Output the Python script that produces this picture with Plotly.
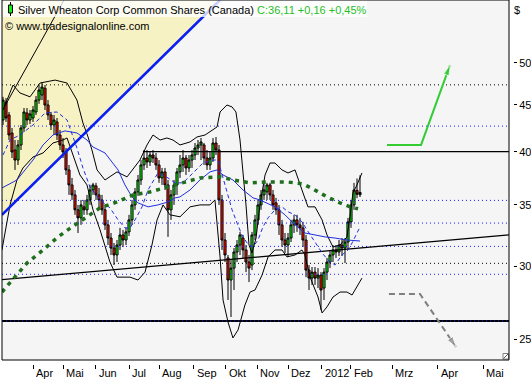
import math
import plotly.graph_objects as go

# ---------------- data ----------------
bar_x = list(range(0, 240, 2))  # bar position (trading-day units)

open_ = [43.31, 45.3, 43.86, 41.92, 40.17, 39.17, 40.68, 42.45, 44.08, 43.31,
         43.53, 44.19, 45.53, 46.11, 46.9, 44.97, 43.86, 42.77, 43.10, 41.71,
         40.68, 39.97, 38.21, 36.80, 35.89, 34.57, 33.88, 34.83, 34.57, 35.44,
         36.34, 36.71, 35.89, 35.44, 34.57, 33.29, 32.21, 31.41, 30.87, 31.65,
         32.46, 32.05, 32.71, 33.71, 35.00, 36.16, 37.26, 38.69, 39.37, 38.98,
         39.67, 39.37, 38.69, 37.45, 38.02, 36.80, 34.57, 35.89, 36.80, 38.02,
         38.69, 39.37, 38.40, 39.17, 39.67, 40.37, 40.68, 40.68, 39.37, 38.69,
         39.37, 40.88, 40.17, 35.44, 32.05, 30.64, 28.99, 29.87, 31.10, 31.65,
         32.21, 31.26, 30.33, 30.10, 32.46, 33.71, 35.00, 35.89, 36.16, 36.80,
         35.89, 35.18, 34.57, 33.29, 32.05, 31.65, 32.21, 33.29, 33.71, 33.29,
         33.04, 32.05, 29.72, 29.13, 29.57, 29.13, 29.35, 28.41, 29.57, 30.33,
         30.87, 31.26, 31.10, 31.65, 31.41, 31.89, 33.54, 35.00, 36.30, 35.90]
close = [45.53, 43.53, 41.71, 39.97, 39.17, 40.68, 42.45, 44.19, 43.31, 43.97,
         44.41, 45.53, 46.69, 47.05, 44.97, 43.86, 42.77, 43.31, 41.71, 40.68,
         39.97, 38.21, 36.80, 35.89, 34.57, 33.88, 35.00, 34.57, 35.44, 36.34,
         36.80, 35.89, 35.44, 34.57, 33.29, 32.21, 31.41, 30.87, 31.65, 32.46,
         32.05, 32.71, 33.71, 35.00, 36.16, 37.26, 38.69, 39.37, 38.98, 39.67,
         39.37, 38.69, 37.45, 38.02, 36.80, 34.57, 35.89, 36.80, 38.02, 38.69,
         39.37, 38.40, 39.17, 39.67, 40.37, 40.68, 40.99, 39.37, 38.69, 39.37,
         40.88, 40.17, 35.44, 32.05, 30.87, 28.99, 29.87, 31.10, 31.65, 32.46,
         31.26, 30.33, 29.87, 32.46, 33.71, 35.00, 35.89, 36.34, 36.80, 35.89,
         35.00, 34.57, 33.29, 32.05, 31.65, 32.21, 33.29, 33.71, 33.29, 33.04,
         32.05, 29.72, 29.13, 29.57, 29.13, 29.35, 28.27, 29.57, 30.33, 30.87,
         31.26, 31.10, 31.65, 31.41, 31.89, 33.54, 35.00, 36.34, 35.95, 36.11]
high = [45.9, 45.76, 44.19, 42.45, 41.19, 41.19, 42.77, 44.63, 44.63, 44.41,
        44.86, 46.0, 47.28, 47.6, 47.28, 45.53, 44.19, 43.86, 43.53, 42.24,
        41.40, 40.37, 38.69, 37.45, 36.34, 35.00, 35.44, 35.44, 35.89, 36.80,
        36.99, 36.99, 36.52, 35.89, 35.00, 33.71, 32.62, 31.81, 32.05, 33.04,
        32.87, 33.04, 34.14, 35.44, 36.52, 37.73, 39.17, 40.17, 40.17, 39.97,
        40.17, 39.87, 39.17, 38.40, 38.40, 37.26, 36.34, 37.26, 38.40, 39.67,
        40.17, 39.67, 39.67, 40.17, 40.88, 41.19, 41.40, 40.88, 40.17, 39.97,
        41.40, 41.50, 40.68, 35.89, 32.62, 30.87, 30.48, 31.41, 32.05, 32.71,
        32.46, 31.65, 30.87, 32.71, 34.14, 35.44, 36.34, 37.08, 36.99, 36.99,
        36.34, 35.62, 35.00, 33.71, 32.62, 32.62, 33.71, 34.14, 34.14, 33.88,
        33.54, 32.46, 30.10, 29.95, 29.95, 29.87, 29.57, 29.87, 30.64, 31.26,
        31.65, 31.65, 32.05, 32.21, 32.21, 33.88, 35.44, 36.99, 37.40, 37.70]
low = [42.77, 43.10, 41.19, 39.37, 38.21, 38.69, 40.17, 42.03, 42.77, 42.88,
       43.10, 43.86, 45.1, 45.53, 44.41, 43.31, 42.24, 41.71, 41.19, 40.17,
       39.37, 37.73, 35.89, 35.44, 34.14, 32.62, 33.29, 34.14, 34.14, 35.00,
       35.89, 35.44, 34.57, 34.14, 32.87, 31.65, 30.87, 30.10, 30.33, 31.26,
       31.49, 31.65, 32.38, 33.29, 34.57, 35.80, 36.80, 38.21, 38.40, 38.59,
       38.88, 38.21, 36.99, 36.80, 36.34, 32.30, 33.71, 35.00, 35.89, 37.45,
       38.02, 37.73, 38.02, 38.40, 39.17, 39.67, 39.17, 38.69, 38.21, 38.21,
       38.98, 39.67, 35.00, 31.26, 30.33, 27.57, 26.42, 28.27, 30.33, 30.87,
       30.64, 29.57, 28.84, 29.72, 32.05, 33.29, 34.57, 35.44, 35.44, 35.44,
       34.57, 34.14, 32.46, 31.49, 31.03, 30.72, 31.89, 32.62, 32.71, 32.46,
       31.49, 29.20, 28.27, 28.63, 28.63, 28.41, 26.89, 27.57, 28.99, 29.87,
       30.33, 30.64, 30.79, 30.79, 30.25, 31.26, 33.04, 34.57, 35.60, 35.70]

# Bollinger bands
bb_up_x = [0, 6.7, 11.3, 18, 24.7, 34.7, 42.7, 49.3, 53.3, 56.7, 59.3, 62.7, 68, 76, 82.7,
           91.3, 96, 100, 104.7, 109.3, 113.3, 118, 124.7, 129.3, 134.7, 140, 142.7, 144.7,
           149.3, 152.7, 155.3, 158, 160, 162, 164, 166, 168.7, 171.3, 174.7, 178, 181.3,
           186, 190, 194.7, 199.3, 203.3, 208, 212.7, 216, 220, 224.7, 229.3, 231.3, 233.3,
           236, 239.3]
bb_up = [44.41, 47.28, 46.35, 45.9, 47.52, 47.87, 47.52, 45.53, 42.99, 41.50, 40.17, 38.21,
         37.26, 38.02, 37.55, 39.17, 40.68, 41.71, 41.19, 41.40, 41.19, 40.68, 40.99, 41.50,
         41.71, 42.24, 42.56, 44.19, 44.97, 44.75, 44.19, 41.19, 38.21, 35.0, 31.65, 31.03,
         32.21, 35.0, 37.73, 38.88, 38.88, 38.21, 37.92, 38.21, 36.34, 34.83, 34.83, 33.71,
         32.46, 31.49, 31.65, 32.30, 33.97, 36.07, 36.80, 37.92]
bb_lo_x = [-0.7, 4.7, 9.3, 13.3, 20, 26.7, 33.3, 40, 42.7, 48, 51.3, 56, 60, 64.7, 68, 71.3,
           76, 84.7, 90, 94.7, 99.3, 102.7, 106.7, 111.3, 118, 124.7, 131.3, 138, 141.3,
           144.7, 146.7, 150, 153.3, 156.7, 161.3, 164.7, 168, 172.7, 176.7, 181.3, 186,
           189.3, 194.7, 199.3, 201.3, 204.7, 210, 212.7, 216, 220, 224.7, 229.3, 232.7,
           236, 239.3]
bb_lo = [31.26, 35.0, 37.26, 38.40, 39.47, 39.87, 40.88, 41.19, 41.40, 39.17, 37.73, 36.80,
         34.57, 32.87, 31.65, 30.33, 29.20, 29.20, 28.99, 29.57, 31.65, 33.71, 35.0, 34.14,
         33.97, 34.83, 35.0, 35.0, 35.44, 30.72, 27.57, 26.09, 25.07, 25.58, 27.23, 28.13,
         28.27, 29.35, 30.72, 31.26, 31.26, 30.72, 30.87, 31.26, 30.87, 29.20, 27.78, 26.69,
         27.10, 27.78, 28.13, 28.13, 27.92, 28.48, 29.13]

# moving averages
ma_mid_x = [-0.7, 9.3, 20, 26.7, 33.3, 41.3, 49.3, 56, 60, 68, 76.7, 81.3, 86, 90, 96.7,
            103.3, 110, 114.7, 118, 124.7, 131.3, 138, 142.7, 146.7, 153.3, 160, 166.7,
            171.3, 181.3, 188, 194.7, 201.3, 208, 214.7, 221.3, 229.3, 238]
ma_mid = [36.52, 37.26, 39.17, 40.68, 41.71, 42.14, 41.92, 41.19, 40.47, 39.87, 38.21,
          36.80, 35.71, 35.18, 34.83, 35.0, 35.26, 35.62, 35.71, 36.34, 37.26, 38.02, 38.21,
          37.73, 37.26, 36.34, 35.62, 35.44, 34.83, 34.14, 33.29, 32.62, 32.46, 32.30,
          32.21, 32.05, 31.97]
ma_fast_x = [0, 4.7, 11.3, 20, 28, 36, 42.7, 49.3, 53.3, 58, 64.7, 71.3, 76.7, 81.3, 84.7,
             88, 92.7, 96.7, 103.3, 110, 114.7, 120, 126.7, 133.3, 140, 143.3, 146.7, 150,
             152.7, 156, 159.3, 162.7, 166.7, 170, 173.3, 176.7, 181.3, 186, 190, 194.7,
             199.3, 202.7, 208, 212.7, 216.7, 221.3, 226, 230, 232.7, 234.7, 238]
ma_fast = [39.67, 41.19, 41.71, 42.77, 44.08, 44.19, 43.31, 40.37, 38.40, 36.61, 35.44,
           34.74, 33.71, 33.04, 33.04, 33.71, 34.83, 36.34, 37.92, 37.45, 36.99, 36.99,
           37.92, 38.88, 39.17, 39.17, 37.45, 35.71, 34.57, 33.46, 32.46, 31.81, 31.49,
           32.05, 33.12, 33.88, 34.57, 34.83, 34.40, 34.14, 33.54, 32.87, 31.89, 31.03,
           30.48, 30.10, 30.87, 31.26, 31.81, 32.30, 33.12]
ma_slow_x = [-0.7, 16, 26.7, 36.7, 46, 56, 64.7, 76, 86.7, 98, 109.3, 118, 131.3, 144.7,
             153.3, 164.7, 176, 189.3, 200, 206.7, 216, 224.7, 231.3, 236.7]
ma_slow = [28.13, 30.25, 31.26, 32.30, 33.12, 33.97, 34.74, 35.26, 35.89, 36.16, 36.61,
           36.99, 37.45, 37.55, 37.26, 36.99, 37.08, 37.08, 36.89, 36.43, 35.71, 35.18,
           34.83, 34.66]

# drawn trend lines / levels
blue_trend_x = [-0.7, 144.7]
blue_trend = [34.14, 58.52]
thin_trend_x = [1.3, 40.7]
thin_trend = [44.86, 58.52]
support_x = [-0.7, 337.3]
support = [29.02, 32.47]
resist_x = [93.3, 337.3]
resist = [40.0, 40.0]
floor_level = 26.15
black_dotted_levels = [47.3, 30.23]
blue_dotted_levels = [42.65, 35.4, 33.44, 31.54, 29.41, 26.15]
up_arrow_x = [256, 278.7, 298]
up_arrow = [40.68, 40.68, 49.7]
down_arrow_x = [257.3, 278, 302]
down_arrow = [27.99, 27.99, 24.51]

tick_pos = [20.2, 40.2, 61.8, 84, 104, 127.3, 148.5, 169.5, 190.2, 212.5, 231.8, 259.5, 289.8, 320.2]
tick_text = ['Apr', 'Mai', 'Jun', 'Jul', 'Aug', 'Sep', 'Okt', 'Nov', 'Dez', '2012', 'Feb', 'Mrz', 'Apr', 'Mai']
y_ticks = [25, 30, 35, 40, 45, 50]

X0, X1 = -0.667, 337.33
Y0, Y1 = 23.72, 58.52
LY0, LY1 = math.log10(Y0), math.log10(Y1)


def ydom(v):
    return (math.log10(v) - LY0) / (LY1 - LY0)


# ---------------- figure ----------------
fig = go.Figure()
FONT = "Liberation Sans, Arial, sans-serif"

for lv in black_dotted_levels:
    fig.add_trace(go.Scatter(x=[X0, X1], y=[lv, lv], mode='lines',
                             line=dict(color='black', width=1, dash='1px,3px'),
                             hoverinfo='skip', showlegend=False))
fig.add_trace(go.Scatter(x=[X0, X1], y=[floor_level, floor_level], mode='lines',
                         line=dict(color='black', width=2), hoverinfo='skip', showlegend=False))
for lv in blue_dotted_levels:
    fig.add_trace(go.Scatter(x=[X0, X1], y=[lv, lv], mode='lines',
                             line=dict(color='#1a1aff', width=1, dash='1px,3px'),
                             hoverinfo='skip', showlegend=False))

fig.add_trace(go.Scatter(x=resist_x, y=resist, mode='lines', line=dict(color='black', width=1.3),
                         hoverinfo='skip', showlegend=False))
fig.add_trace(go.Scatter(x=support_x, y=support, mode='lines', line=dict(color='black', width=1.3),
                         hoverinfo='skip', showlegend=False))

fig.add_trace(go.Candlestick(x=bar_x, open=open_, high=high, low=low, close=close,
                             increasing=dict(fillcolor='#10f010', line=dict(color='black', width=1)),
                             decreasing=dict(fillcolor='#ff1400', line=dict(color='black', width=1)),
                             whiskerwidth=0, hoverinfo='skip', showlegend=False))

for xs, ys in [(bb_up_x, bb_up), (bb_lo_x, bb_lo)]:
    fig.add_trace(go.Scatter(x=xs, y=ys, mode='lines', line=dict(color='black', width=1),
                             hoverinfo='skip', showlegend=False))
fig.add_trace(go.Scatter(x=ma_mid_x, y=ma_mid, mode='lines', line=dict(color='#1f2fe0', width=1),
                         hoverinfo='skip', showlegend=False))
fig.add_trace(go.Scatter(x=ma_fast_x, y=ma_fast, mode='lines',
                         line=dict(color='#1f2fe0', width=1, dash='4px,3px'),
                         hoverinfo='skip', showlegend=False))
fig.add_trace(go.Scatter(x=ma_slow_x, y=ma_slow, mode='lines',
                         line=dict(color='#1e6e1e', width=3.5, dash='4px,5px'),
                         hoverinfo='skip', showlegend=False))

fig.add_trace(go.Scatter(x=thin_trend_x, y=thin_trend, mode='lines', line=dict(color='black', width=1),
                         hoverinfo='skip', showlegend=False))
fig.add_trace(go.Scatter(x=blue_trend_x, y=blue_trend, mode='lines', line=dict(color='#0a1ff0', width=2.6),
                         hoverinfo='skip', showlegend=False))

fig.add_trace(go.Scatter(x=up_arrow_x, y=up_arrow, mode='lines+markers',
                         line=dict(color='#33cc33', width=2),
                         marker=dict(symbol='arrow', size=[0, 0, 11], angleref='previous', color='#33cc33'),
                         hoverinfo='skip', showlegend=False))
fig.add_trace(go.Scatter(x=down_arrow_x, y=down_arrow, mode='lines+markers',
                         line=dict(color='#808080', width=2, dash='6px,4px'),
                         marker=dict(symbol='arrow', size=[0, 0, 11], angleref='previous', color='#808080'),
                         hoverinfo='skip', showlegend=False))

# ---------------- layout ----------------
W, H = 531, 380
ML, MR, MT, MB = 2, 18, 0, 16
PW, PH = W - ML - MR, H - MT - MB


def xp(px):
    return (px - ML) / PW


def yp(py):
    return 1 - (py - MT) / PH


annotations = []
for pos, txt in zip(tick_pos, tick_text):
    annotations.append(dict(x=pos, xref='x', xanchor='left', xshift=1, y=yp(373), yref='paper',
                            yanchor='middle', text=txt, showarrow=False,
                            font=dict(family=FONT, size=11, color='black')))
annotations.append(dict(x=xp(16), xref='paper', xanchor='left', y=yp(9.5), yref='paper', yanchor='middle',
                        text="Silver Wheaton Corp Common Shares (Canada) "
                             "<span style='color:#1fbf1f'>C:36,11 +0,16 +0,45%</span>",
                        showarrow=False, font=dict(family=FONT, size=11, color='black')))
annotations.append(dict(x=xp(3), xref='paper', xanchor='left', y=yp(26), yref='paper', yanchor='middle',
                        text="© www.tradesignalonline.com", showarrow=False,
                        font=dict(family=FONT, size=11, color='black')))
annotations.append(dict(x=xp(517), xref='paper', xanchor='center', y=yp(10), yref='paper', yanchor='middle',
                        text="$", showarrow=False, font=dict(family=FONT, size=11, color='black')))

tri_path = "M {a},1 L {b},1 L {a},{c} Z".format(a=X0, b=blue_trend_x[1], c=ydom(blue_trend[0]))

shapes = [
    dict(type='path', xref='x', yref='y domain', path=tri_path,
         fillcolor='#F7F2C4', line=dict(width=0), layer='below'),
    dict(type='rect', xref='paper', yref='paper', x0=xp(0), x1=xp(367), y0=yp(17), y1=yp(0),
         fillcolor='rgba(255,255,255,0.78)', line=dict(width=0), layer='above'),
    dict(type='line', xref='paper', yref='paper', x0=xp(10.5), x1=xp(10.5), y0=yp(16), y1=yp(2),
         line=dict(color='black', width=1), layer='above'),
    dict(type='rect', xref='paper', yref='paper', x0=xp(8.5), x1=xp(12.5), y0=yp(13), y1=yp(5),
         fillcolor='#10f010', line=dict(color='black', width=1), layer='above'),
    # small resize glyph in the plot corner
    dict(type='rect', xref='paper', yref='paper', x0=xp(503), x1=xp(508.5), y0=yp(359), y1=yp(353.5),
         fillcolor='white', line=dict(color='#808080', width=1), layer='above'),
    dict(type='line', xref='paper', yref='paper', x0=xp(503.5), x1=xp(508), y0=yp(358.5), y1=yp(354),
         line=dict(color='#606060', width=1), layer='above'),
    dict(type='rect', xref='x domain', yref='y domain', x0=0, x1=1, y0=0, y1=1,
         line=dict(color='black', width=1), layer='above'),
]

fig.update_layout(
    width=W, height=H, margin=dict(l=ML, r=MR, t=MT, b=MB, pad=0),
    paper_bgcolor='white', plot_bgcolor='#F5F5F5',
    showlegend=False, annotations=annotations, shapes=shapes,
    xaxis=dict(range=[X0, X1], domain=[0, (509 - ML) / PW], anchor='free', position=0,
               showgrid=False, zeroline=False, showline=False,
               tickmode='array', tickvals=tick_pos, showticklabels=False,
               ticks='outside', ticklen=4, tickcolor='black', tickwidth=1,
               rangeslider=dict(visible=False), automargin=False, fixedrange=True),
    yaxis=dict(type='log', range=[LY0, LY1],
               domain=[(PH - 360) / PH, 1], anchor='free', position=1, side='right',
               showgrid=False, zeroline=False, showline=False,
               tickmode='array', tickvals=y_ticks, ticktext=[str(v) for v in y_ticks],
               ticks='outside', ticklen=3, tickcolor='black', tickwidth=1,
               tickfont=dict(family=FONT, size=11, color='black'), automargin=False, fixedrange=True),
    boxgap=0.0,
)

fig.write_html("out.html", config={'displayModeBar': False},
               post_script="document.body.style.margin='0px';")
